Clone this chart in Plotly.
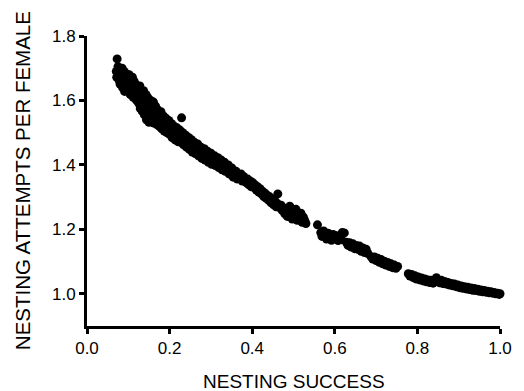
import plotly.graph_objects as go

seg1_x = [0.073,0.071,0.072,0.075,0.076,0.078,0.079,0.080,0.082,0.083,0.085,0.086,0.087,0.089,0.090,0.091,0.092,0.094,0.095,0.097,0.098,0.099,0.101,0.102,0.104,0.105,0.106,0.108,0.109,0.110,0.112,0.113,0.114,0.116,0.117,0.118,0.120,0.121,0.122]
seg1_y = [1.729,1.690,1.672,1.705,1.682,1.662,1.696,1.651,1.688,1.670,1.700,1.640,1.678,1.658,1.690,1.628,1.668,1.645,1.683,1.655,1.672,1.632,1.662,1.680,1.642,1.618,1.666,1.650,1.630,1.672,1.610,1.645,1.660,1.625,1.638,1.650,1.600,1.618,1.640]

seg2_x = [0.124,0.125,0.126,0.128,0.129,0.130,0.131,0.133,0.134,0.135,0.137,0.138,0.139,0.140,0.142,0.143,0.144,0.145,0.147,0.148,0.149,0.150,0.152,0.153,0.154,0.156,0.157,0.158,0.160,0.161,0.162,0.164,0.165,0.166,0.168,0.169,0.170,0.172,0.173,0.175,0.176,0.178,0.179,0.181,0.182,0.184,0.185,0.187,0.188,0.190,0.191,0.193]
seg2_y = [1.628,1.592,1.610,1.645,1.575,1.600,1.622,1.585,1.566,1.610,1.630,1.592,1.555,1.602,1.578,1.618,1.540,1.595,1.565,1.608,1.580,1.532,1.590,1.555,1.600,1.570,1.540,1.585,1.558,1.595,1.530,1.572,1.548,1.582,1.560,1.525,1.572,1.545,1.562,1.520,1.555,1.538,1.565,1.512,1.548,1.528,1.552,1.505,1.535,1.518,1.545,1.500]

seg3_x = [0.195,0.196,0.198,0.200,0.201,0.203,0.205,0.206,0.208,0.210,0.211,0.213,0.215,0.216,0.218,0.220,0.221,0.223,0.225,0.229,0.227,0.228,0.230,0.232,0.234,0.235,0.237,0.239,0.241,0.242,0.244,0.246,0.248,0.249,0.251,0.253,0.255,0.257,0.258,0.260,0.262,0.264,0.266,0.268,0.270,0.272,0.274,0.276,0.278,0.280,0.282,0.284,0.286,0.288,0.290,0.292,0.294,0.296,0.298,0.300,0.302]
seg3_y = [1.528,1.512,1.538,1.495,1.520,1.505,1.528,1.485,1.510,1.495,1.520,1.478,1.502,1.490,1.515,1.472,1.498,1.485,1.508,1.546,1.470,1.492,1.480,1.500,1.462,1.485,1.472,1.492,1.455,1.478,1.465,1.485,1.448,1.470,1.458,1.478,1.440,1.462,1.450,1.470,1.435,1.455,1.445,1.465,1.428,1.450,1.438,1.455,1.420,1.442,1.430,1.450,1.415,1.435,1.422,1.442,1.408,1.428,1.418,1.436,1.402]

seg4_x = [0.305,0.307,0.309,0.311,0.313,0.315,0.317,0.319,0.321,0.323,0.325,0.327,0.329,0.331,0.333,0.335,0.337,0.340,0.342,0.344,0.346,0.349,0.351,0.354,0.356,0.359,0.361,0.364,0.367,0.370,0.373,0.376,0.379,0.382,0.386,0.389,0.392,0.395,0.398]
seg4_y = [1.420,1.405,1.428,1.398,1.415,1.405,1.422,1.392,1.410,1.398,1.415,1.385,1.402,1.392,1.408,1.380,1.396,1.386,1.400,1.372,1.388,1.375,1.390,1.362,1.378,1.366,1.380,1.356,1.370,1.360,1.372,1.350,1.364,1.352,1.344,1.356,1.338,1.350,1.332]

seg5_x = [0.401,0.404,0.407,0.410,0.413,0.416,0.419,0.422,0.425,0.428,0.431,0.434,0.437,0.440,0.443,0.446,0.449,0.452,0.455,0.458,0.462,0.461,0.465]
seg5_y = [1.345,1.330,1.338,1.322,1.332,1.316,1.326,1.310,1.318,1.302,1.312,1.296,1.305,1.290,1.300,1.282,1.294,1.276,1.288,1.270,1.310,1.280,1.268]

seg6_x = [0.470,0.473,0.476,0.479,0.482,0.485,0.488,0.491,0.494,0.497,0.500,0.503,0.506,0.509,0.512,0.515,0.518,0.521,0.524,0.527,0.530]
seg6_y = [1.275,1.258,1.266,1.248,1.262,1.240,1.255,1.272,1.245,1.232,1.252,1.240,1.262,1.228,1.245,1.235,1.250,1.222,1.238,1.228,1.218]

seg7_x = [0.558,0.566,0.569,0.573,0.577,0.580,0.584,0.588,0.592,0.596,0.600,0.604,0.608,0.612,0.616,0.618,0.623]
seg7_y = [1.214,1.190,1.178,1.195,1.182,1.170,1.188,1.176,1.166,1.184,1.172,1.180,1.165,1.175,1.168,1.190,1.189]

seg8_x = [0.628,0.632,0.636,0.640,0.644,0.648,0.652,0.656,0.660,0.664,0.668,0.672,0.676,0.680]
seg8_y = [1.160,1.150,1.158,1.145,1.155,1.140,1.150,1.138,1.148,1.132,1.142,1.128,1.138,1.125]

seg9_x = [0.688,0.692,0.696,0.700,0.704,0.708,0.712,0.716,0.720,0.724,0.728,0.732,0.736,0.740,0.744,0.748,0.752]
seg9_y = [1.115,1.108,1.114,1.103,1.110,1.098,1.106,1.093,1.101,1.089,1.097,1.085,1.093,1.081,1.089,1.079,1.085]

seg10_x = [0.778,0.782,0.786,0.790,0.794,0.798,0.802,0.806,0.810,0.814,0.818,0.822,0.826,0.830,0.834,0.838,0.842,0.846]
seg10_y = [1.062,1.055,1.060,1.050,1.056,1.046,1.052,1.043,1.049,1.040,1.046,1.037,1.043,1.035,1.042,1.033,1.040,1.050]

seg11_x = [0.850,0.854,0.858,0.862,0.866,0.870,0.874,0.878,0.882,0.886,0.890,0.894,0.898,0.902,0.906,0.910,0.914,0.918,0.922,0.926,0.930,0.934,0.938,0.942,0.946,0.950,0.954,0.958,0.962,0.966,0.970,0.974,0.978,0.982,0.986,0.990,0.994,0.998,1.000]
seg11_y = [1.040,1.034,1.042,1.032,1.038,1.030,1.035,1.027,1.032,1.025,1.030,1.022,1.027,1.019,1.024,1.017,1.022,1.015,1.020,1.013,1.018,1.011,1.016,1.010,1.014,1.008,1.012,1.006,1.010,1.005,1.008,1.003,1.006,1.002,1.004,1.000,1.002,0.998,1.000]

x_ticks = [0.0, 0.2, 0.4, 0.6, 0.8, 1.0]
x_tick_labels = ["0.0", "0.2", "0.4", "0.6", "0.8", "1.0"]
y_ticks = [1.0, 1.2, 1.4, 1.6, 1.8]
y_tick_labels = ["1.0", "1.2", "1.4", "1.6", "1.8"]

segs_x = [seg1_x, seg2_x, seg3_x, seg4_x, seg5_x, seg6_x, seg7_x, seg8_x, seg9_x, seg10_x, seg11_x]
segs_y = [seg1_y, seg2_y, seg3_y, seg4_y, seg5_y, seg6_y, seg7_y, seg8_y, seg9_y, seg10_y, seg11_y]
success, attempts = [], []
for sx, sy in zip(segs_x, segs_y):
    assert len(sx) == len(sy), (len(sx), len(sy))
    success += sx
    attempts += sy

FONT = "Liberation Sans, Arial, sans-serif"

fig = go.Figure()
fig.add_trace(go.Scatter(
    x=success, y=attempts, mode="markers",
    marker=dict(size=9, color="black", line=dict(width=0)),
    cliponaxis=False, showlegend=False,
))

axis_common = dict(
    showline=True, linecolor="black", linewidth=3,
    ticks="outside", ticklen=5, tickwidth=2.5, tickcolor="black",
    showgrid=False, zeroline=False,
    tickfont=dict(family=FONT, size=17, color="black"),
)
fig.update_xaxes(range=[0, 1.0], tickvals=x_ticks, ticktext=x_tick_labels, **axis_common)
fig.update_yaxes(range=[0.9, 1.8], tickvals=y_ticks, ticktext=y_tick_labels, **axis_common)

# The page body adds an 8px offset, so the figure is 8px smaller than the window
fig.update_layout(
    width=516, height=383,
    margin=dict(l=79, r=20, t=28, b=65),
    paper_bgcolor="white", plot_bgcolor="white",
    font=dict(family=FONT, color="black"),
    annotations=[
        dict(text="NESTING SUCCESS", xref="paper", yref="paper", x=0.5, y=-0.19,
             xanchor="center", yanchor="middle", showarrow=False,
             font=dict(family=FONT, size=19, color="black")),
        dict(text="NESTING ATTEMPTS PER FEMALE", xref="paper", yref="paper", x=-0.157, y=0.5,
             xanchor="center", yanchor="middle", textangle=-90, showarrow=False,
             font=dict(family=FONT, size=20.5, color="black")),
    ],
)

fig.write_html("out.html")
